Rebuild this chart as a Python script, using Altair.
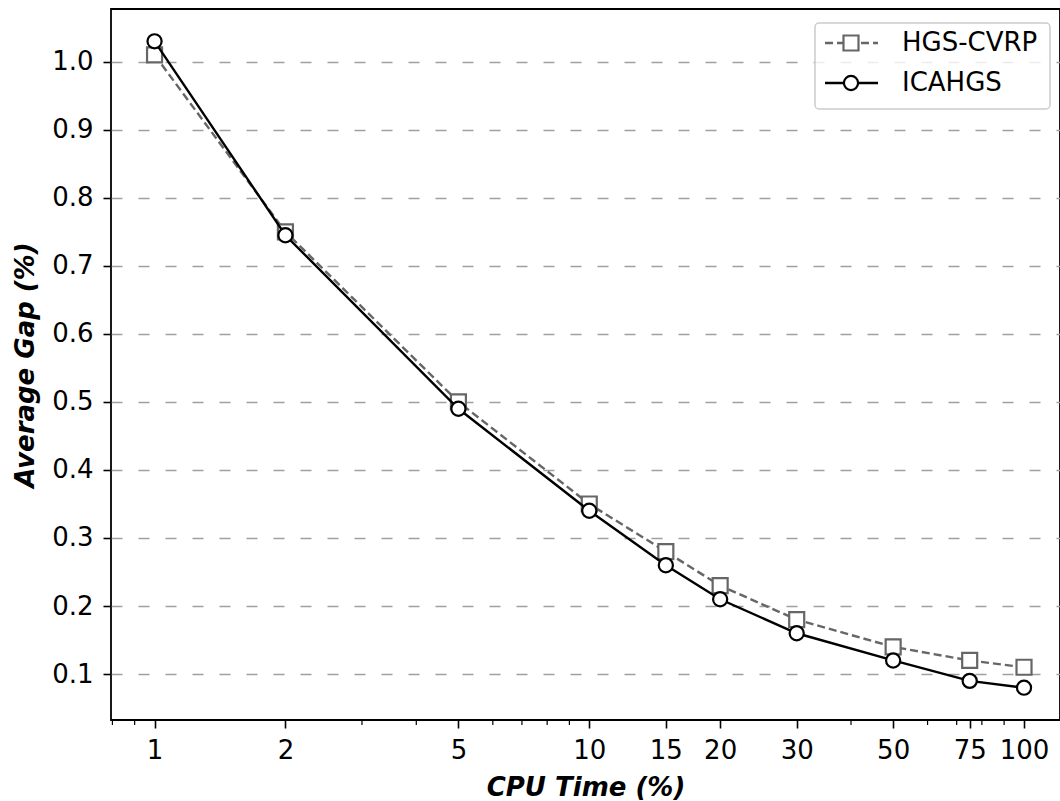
import altair as alt
import pandas as pd

# ---- data ----
cpu_time = [1, 2, 5, 10, 15, 20, 30, 50, 75, 100]
hgs_cvrp = [1.01, 0.75, 0.50, 0.35, 0.28, 0.23, 0.18, 0.14, 0.12, 0.11]
icahgs = [1.03, 0.745, 0.49, 0.34, 0.26, 0.21, 0.16, 0.12, 0.09, 0.08]

x_major_ticks = [1, 2, 5, 10, 15, 20, 30, 50, 75, 100]
x_minor_ticks = [0.8, 0.9, 3, 4, 6, 7, 8, 9, 40, 60, 70, 80, 90]
y_ticks = [0.1, 0.2, 0.3, 0.4, 0.5, 0.6, 0.7, 0.8, 0.9, 1.0]

series_names = ["HGS-CVRP", "ICAHGS"]

FONT = "DejaVu Sans"
W, H = 949, 711

df_h = pd.DataFrame({"cpu": cpu_time, "gap": hgs_cvrp})
df_i = pd.DataFrame({"cpu": cpu_time, "gap": icahgs})
df_minor = pd.DataFrame({"v": x_minor_ticks})
one = pd.DataFrame({"k": [0]})

xscale = alt.Scale(type="log", domain=[0.794, 121], nice=False)
yscale = alt.Scale(domain=[0.0325, 1.0775], nice=False, zero=False)

xenc = alt.X(
    "cpu:Q",
    scale=xscale,
    axis=alt.Axis(
        values=x_major_ticks,
        format="~g",
        title="CPU Time (%)",
        grid=False,
        domain=False,
        tickSize=8,
        tickWidth=1.6,
        tickColor="black",
        labelFont=FONT,
        labelFontSize=26,
        labelColor="black",
        labelPadding=9,
        labelFlush=False,
        labelOverlap=False,
        titleFont=FONT,
        titleFontSize=26,
        titleFontWeight="bold",
        titleFontStyle="italic",
        titleColor="black",
        titlePadding=11,
    ),
)
yenc = alt.Y(
    "gap:Q",
    scale=yscale,
    axis=alt.Axis(
        values=y_ticks,
        format=".1f",
        title="Average Gap (%)",
        grid=True,
        gridDash=[11, 16],
        gridColor="#a0a0a0",
        gridWidth=1.6,
        domain=False,
        tickSize=8,
        tickWidth=1.6,
        tickColor="black",
        labelFont=FONT,
        labelFontSize=26,
        labelColor="black",
        labelPadding=10,
        labelFlush=False,
        labelOverlap=False,
        titleFont=FONT,
        titleFontSize=26,
        titleFontWeight="bold",
        titleFontStyle="italic",
        titleColor="black",
        titlePadding=13,
    ),
)

GRAY = "#666666"
LW = 2.4

h_line = alt.Chart(df_h).mark_line(color=GRAY, strokeWidth=LW, strokeDash=[8, 4]).encode(x=xenc, y=yenc)
h_pts = alt.Chart(df_h).mark_point(
    shape="square", size=225, filled=True, fill="white", stroke=GRAY, strokeWidth=2.2, opacity=1
).encode(x=xenc, y=yenc)
i_line = alt.Chart(df_i).mark_line(color="black", strokeWidth=LW).encode(x=xenc, y=yenc)
i_pts = alt.Chart(df_i).mark_point(
    shape="circle", size=200, filled=True, fill="white", stroke="black", strokeWidth=2.2, opacity=1
).encode(x=xenc, y=yenc)

minor = alt.Chart(df_minor).mark_rule(color="black", strokeWidth=1.2).encode(
    x=alt.X("v:Q", scale=xscale), y=alt.value(H), y2=alt.value(H + 5)
)

# ---- legend (drawn manually, top right) ----
lx0, lx1, ly0, ly1 = 704, 939, 14, 100
r1, r2 = 34, 74
leg_box = alt.Chart(one).mark_rect(
    fill="white", fillOpacity=0.8, stroke="#cccccc", strokeWidth=1.5, cornerRadius=4
).encode(x=alt.value(lx0), x2=alt.value(lx1), y=alt.value(ly0), y2=alt.value(ly1))
leg_h_line = alt.Chart(one).mark_rule(color=GRAY, strokeWidth=LW, strokeDash=[8, 4]).encode(
    x=alt.value(714), x2=alt.value(767), y=alt.value(r1)
)
leg_h_pt = alt.Chart(one).mark_point(
    shape="square", size=225, filled=True, fill="white", stroke=GRAY, strokeWidth=2.2, opacity=1
).encode(x=alt.value(740), y=alt.value(r1))
leg_i_line = alt.Chart(one).mark_rule(color="black", strokeWidth=LW).encode(
    x=alt.value(714), x2=alt.value(767), y=alt.value(r2)
)
leg_i_pt = alt.Chart(one).mark_point(
    shape="circle", size=200, filled=True, fill="white", stroke="black", strokeWidth=2.2, opacity=1
).encode(x=alt.value(740), y=alt.value(r2))
leg_text = alt.Chart(pd.DataFrame({"name": series_names, "row": [r1, r2]})).mark_text(
    font=FONT, fontSize=26, color="black", align="left", baseline="middle"
).encode(x=alt.value(791), y=alt.Y("row:Q", scale=None), text="name:N")

chart = (
    alt.layer(h_line, h_pts, i_line, i_pts, minor, leg_box, leg_h_line, leg_h_pt, leg_i_line, leg_i_pt, leg_text)
    .properties(
        width=W,
        height=H,
        autosize=alt.AutoSizeParams(type="none"),
        padding={"left": 111, "top": 9, "right": 0, "bottom": 81},
        background="white",
    )
    .configure_view(stroke="black", strokeWidth=1.8)
)

chart.save("out.html", embed_options={"renderer": "svg", "actions": False})
